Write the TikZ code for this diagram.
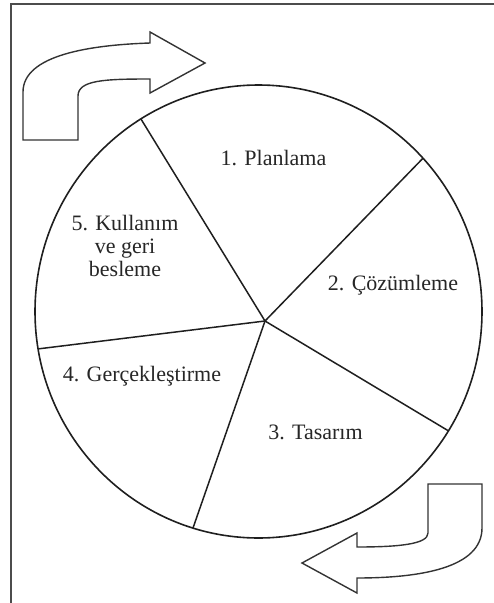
\documentclass[tikz,border=0pt]{standalone}
\usepackage{fontspec}
\setmainfont{Liberation Serif}
\begin{document}
\begin{tikzpicture}[x=1pt,y=-1pt,
  wheel/.style={draw=black!88,line width=1.6pt},
  spoke/.style={draw=black!88,line width=1.5pt},
  bigarrow/.style={draw=black!80,line width=1.4pt,line join=miter},
  frameline/.style={draw=black!70,line width=1.3pt},
  phase/.style={text=black!85,font=\fontsize{22}{23}\selectfont,align=center,inner sep=0pt}]
\useasboundingbox (0,0) rectangle (494,603);
% frame
\draw[frameline] (11,603) -- (11,4) -- (494,4);
% wheel
\coordinate (C) at (265,321);
\draw[wheel] (258.5,311.5) ellipse [x radius=223.5pt, y radius=226.5pt];
\coordinate (p1) at (140.9,118.9);
\coordinate (p2) at (423.0,158.2);
\coordinate (p3) at (448.5,430.9);
\coordinate (p4) at (193.0,528.0);
\coordinate (p5) at (38.1,348.9);
\foreach \p in {p1,p2,p3,p4,p5} \draw[spoke] (C) -- (\p);
% labels
\node[phase] (t1) at (273.5,158) {1. Planlama};
\node[phase] (t2) at (393,285) {2. Çözümleme};
\node[phase] (t3) at (315.5,432) {3. Tasarım};
\node[phase] (t4) at (142,376) {4. Gerçekleştirme};
\node[phase] (t5) at (125,246) {5. Kullanım\\ve geri\\besleme};
% arrows
\draw[bigarrow] (23,140) -- (23,92) .. controls (23,55) and (90,45) .. (150,43)
  -- (150,32) -- (205,63) -- (150,93) -- (150,79)
  .. controls (105,79) and (78,80) .. (78,96) -- (78,140) -- cycle;
\draw[bigarrow] (482,484) -- (482,528) .. controls (482,568) and (420,578) .. (357,578)
  -- (357,593) -- (302,563) -- (357,533) -- (357,547)
  .. controls (400,547) and (428,544) .. (428,533) -- (428,484) -- cycle;
\end{tikzpicture}
\end{document}
